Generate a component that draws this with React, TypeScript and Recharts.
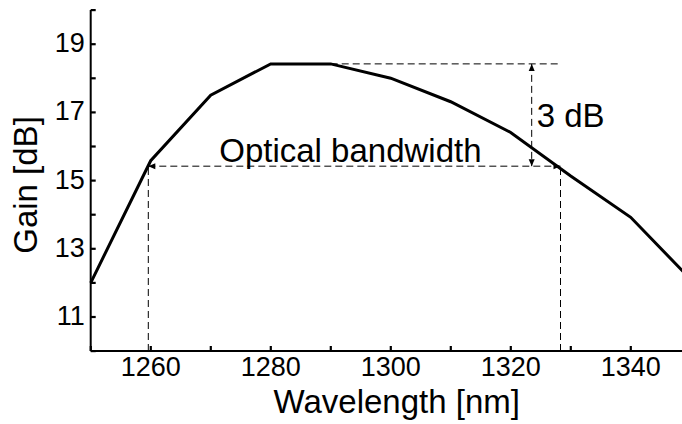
import React from "react";
import { LineChart, Line, XAxis, YAxis, ReferenceLine } from "recharts";

// measured gain curve
const WAVELENGTH = [1250, 1260, 1270, 1280, 1290, 1300, 1310, 1320, 1330, 1340, 1350];
const GAIN = [12.0, 15.58, 17.5, 18.42, 18.42, 18.0, 17.31, 16.41, 15.13, 13.92, 12.1];

const X_TICKS = [1250, 1260, 1270, 1280, 1290, 1300, 1310, 1320, 1330, 1340, 1350];
const X_LABELS = [1260, 1280, 1300, 1320, 1340];
const Y_TICKS = [10, 11, 12, 13, 14, 15, 16, 17, 18, 19, 20];
const Y_LABELS = [11, 13, 15, 17, 19];

// annotation values
const PEAK_GAIN = 18.42;
const BW_GAIN = 15.42;
const BW_LOW = 1259.6;
const BW_HIGH = 1328.3;
const PEAK_START = 1290;
const PEAK_END = 1328.5;
const DB_MARK = 1323.5;

const data = WAVELENGTH.map((w, i) => ({ w, gain: GAIN[i] }));

const FONT = "'Liberation Sans', Arial, Helvetica, sans-serif";
const TICK_GAP = 6;
const TICK_LEN = 5;

// ticks point inwards, labels only on every other tick
const XTick = (props: any) => {
  const { x, y, payload } = props;
  const axisY = y - TICK_GAP;
  return (
    <g>
      <rect x={x - 1} y={axisY - TICK_LEN} width={2.2} height={TICK_LEN} fill="#000" />
      {X_LABELS.includes(payload.value) && (
        <text x={x} y={y} dy="0.71em" textAnchor="middle" fontSize={27} fontFamily={FONT} fill="#000">
          {payload.value}
        </text>
      )}
    </g>
  );
};

const YTick = (props: any) => {
  const { x, y, payload } = props;
  const axisX = x + TICK_GAP;
  return (
    <g>
      <rect x={axisX} y={y - 1} width={TICK_LEN} height={2.2} fill="#000" />
      {Y_LABELS.includes(payload.value) && (
        <text x={x} y={y} dy="0.3em" textAnchor="end" fontSize={27} fontFamily={FONT} fill="#000">
          {payload.value}
        </text>
      )}
    </g>
  );
};

const YTitle = (props: any) => {
  const vb = props.viewBox || { x: 0, y: 0, height: 0 };
  const cx = vb.x + 37;
  const cy = vb.y + vb.height / 2 + 4.5;
  return (
    <text x={cx} y={cy} textAnchor="middle" fontSize={33} fontFamily={FONT} fill="#000" transform={`rotate(-90, ${cx}, ${cy})`}>
      Gain [dB]
    </text>
  );
};

const XTitle = (props: any) => {
  const vb = props.viewBox || { x: 0, y: 0, width: 0, height: 0 };
  return (
    <text x={vb.x + vb.width / 2 + 6} y={vb.y + 62.3} textAnchor="middle" fontSize={33} fontFamily={FONT} fill="#000">
      Wavelength [nm]
    </text>
  );
};

const arrowHead = (x: number, y: number, a: number, key: string) => {
  const L = 7;
  const W = 3;
  const bx = x - L * Math.cos(a);
  const by = y - L * Math.sin(a);
  const px = -Math.sin(a) * W;
  const py = Math.cos(a) * W;
  return <polygon key={key} points={`${x},${y} ${bx + px},${by + py} ${bx - px},${by - py}`} fill="#000" />;
};

const dashed = (start: boolean, end: boolean) => (p: any) => {
  const { x1, y1, x2, y2 } = p;
  const a = Math.atan2(y2 - y1, x2 - x1);
  return (
    <g>
      <line x1={x1} y1={y1} x2={x2} y2={y2} stroke="#000" strokeWidth={1} strokeDasharray="7 4" />
      {start && arrowHead(x1, y1, a + Math.PI, "s")}
      {end && arrowHead(x2, y2, a, "e")}
    </g>
  );
};

export default function App() {
  return (
    <div style={{ position: "absolute", left: 0, top: 0, width: 682, height: 424, overflow: "hidden", background: "#fff" }}>
      <LineChart width={700} height={424} data={data} margin={{ top: 10, right: 9.3, left: 0, bottom: 0 }}>
        <XAxis
          dataKey="w"
          type="number"
          domain={[1250, 1350]}
          ticks={X_TICKS}
          interval={0}
          height={73}
          tickSize={0}
          tickMargin={TICK_GAP}
          tickLine={false}
          axisLine={{ stroke: "#000", strokeWidth: 2 }}
          tick={<XTick />}
          label={<XTitle />}
        />
        <YAxis
          type="number"
          domain={[10, 20]}
          ticks={Y_TICKS}
          interval={0}
          width={90.7}
          tickSize={0}
          tickMargin={TICK_GAP}
          tickLine={false}
          axisLine={{ stroke: "#000", strokeWidth: 2 }}
          tick={<YTick />}
          label={<YTitle />}
        />
        <ReferenceLine
          segment={[{ x: PEAK_START, y: PEAK_GAIN }, { x: PEAK_END, y: PEAK_GAIN }]}
          ifOverflow="visible"
          shape={dashed(false, false)}
        />
        <ReferenceLine
          segment={[{ x: BW_LOW, y: 10 }, { x: BW_LOW, y: BW_GAIN }]}
          ifOverflow="visible"
          shape={dashed(false, false)}
        />
        <ReferenceLine
          segment={[{ x: BW_HIGH, y: 10 }, { x: BW_HIGH, y: BW_GAIN }]}
          ifOverflow="visible"
          shape={dashed(false, false)}
        />
        <ReferenceLine
          segment={[{ x: BW_LOW, y: BW_GAIN }, { x: BW_HIGH, y: BW_GAIN }]}
          ifOverflow="visible"
          shape={dashed(true, true)}
          label={{ value: "Optical bandwidth", position: "top", offset: 4, dx: -4, fontSize: 33, fontFamily: FONT, fill: "#000" }}
        />
        <ReferenceLine
          segment={[{ x: DB_MARK, y: PEAK_GAIN }, { x: DB_MARK, y: BW_GAIN }]}
          ifOverflow="visible"
          shape={dashed(true, true)}
          label={{ value: "3 dB", position: "right", offset: 5, fontSize: 33, fontFamily: FONT, fill: "#000" }}
        />
        <Line
          type="linear"
          dataKey="gain"
          stroke="#000"
          strokeWidth={3}
          dot={false}
          activeDot={false}
          isAnimationActive={false}
        />
      </LineChart>
    </div>
  );
}
